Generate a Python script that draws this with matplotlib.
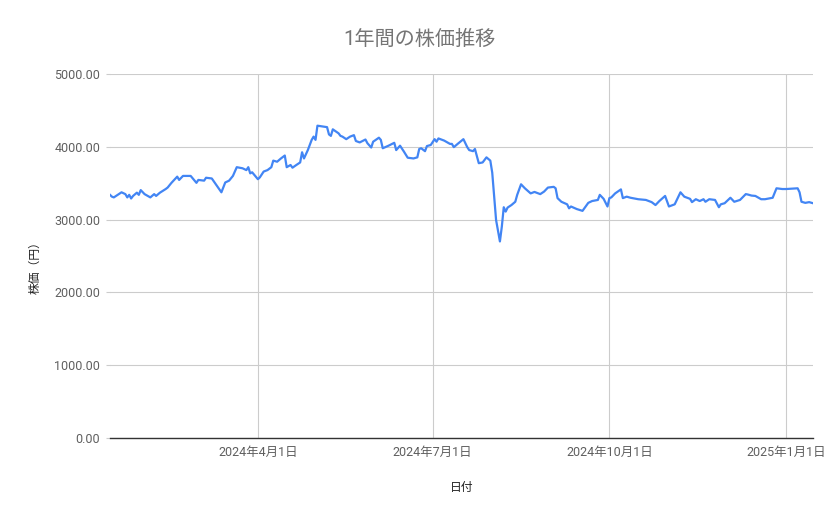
import numpy as np
import pandas as pd
import matplotlib
matplotlib.use('Agg')
import matplotlib.pyplot as plt
import matplotlib.dates as mdates
from matplotlib.ticker import FixedLocator, FuncFormatter

plt.rcParams['font.family'] = ['Roboto', 'Noto Sans CJK JP', 'DejaVu Sans']

dates = [
    '2024-01-15', '2024-01-16', '2024-01-17', '2024-01-19', '2024-01-21', '2024-01-23',
    '2024-01-24', '2024-01-25', '2024-01-26', '2024-01-27', '2024-01-29', '2024-01-30',
    '2024-01-31', '2024-02-02', '2024-02-05', '2024-02-07', '2024-02-08', '2024-02-10',
    '2024-02-13', '2024-02-14', '2024-02-16', '2024-02-19', '2024-02-20', '2024-02-22',
    '2024-02-26', '2024-02-29', '2024-03-01', '2024-03-04', '2024-03-05', '2024-03-08',
    '2024-03-11', '2024-03-13', '2024-03-15', '2024-03-17', '2024-03-19', '2024-03-21',
    '2024-03-24', '2024-03-26', '2024-03-27', '2024-03-28', '2024-03-29', '2024-04-01',
    '2024-04-02', '2024-04-04', '2024-04-06', '2024-04-08', '2024-04-09', '2024-04-11',
    '2024-04-13', '2024-04-15', '2024-04-16', '2024-04-18', '2024-04-19', '2024-04-21',
    '2024-04-23', '2024-04-24', '2024-04-25', '2024-04-27', '2024-04-29', '2024-04-30',
    '2024-05-01', '2024-05-02', '2024-05-07', '2024-05-08', '2024-05-09', '2024-05-10',
    '2024-05-13', '2024-05-14', '2024-05-15', '2024-05-17', '2024-05-19', '2024-05-21',
    '2024-05-22', '2024-05-24', '2024-05-27', '2024-05-28', '2024-05-30', '2024-05-31',
    '2024-06-03', '2024-06-04', '2024-06-05', '2024-06-08', '2024-06-11', '2024-06-12',
    '2024-06-14', '2024-06-16', '2024-06-18', '2024-06-21', '2024-06-23', '2024-06-24',
    '2024-06-25', '2024-06-27', '2024-06-28', '2024-06-30', '2024-07-02', '2024-07-03',
    '2024-07-04', '2024-07-07', '2024-07-10', '2024-07-11', '2024-07-12', '2024-07-14',
    '2024-07-17', '2024-07-19', '2024-07-20', '2024-07-22', '2024-07-23', '2024-07-25',
    '2024-07-27', '2024-07-29', '2024-07-31', '2024-08-01', '2024-08-02', '2024-08-03',
    '2024-08-05', '2024-08-06', '2024-08-07', '2024-08-08', '2024-08-09', '2024-08-11',
    '2024-08-13', '2024-08-14', '2024-08-16', '2024-08-18', '2024-08-21', '2024-08-23',
    '2024-08-26', '2024-08-28', '2024-08-30', '2024-09-02', '2024-09-03', '2024-09-04',
    '2024-09-06', '2024-09-09', '2024-09-10', '2024-09-11', '2024-09-14', '2024-09-17',
    '2024-09-20', '2024-09-22', '2024-09-25', '2024-09-26', '2024-09-28', '2024-09-30',
    '2024-10-01', '2024-10-02', '2024-10-04', '2024-10-07', '2024-10-08', '2024-10-10',
    '2024-10-12', '2024-10-16', '2024-10-20', '2024-10-23', '2024-10-25', '2024-10-27',
    '2024-10-30', '2024-11-01', '2024-11-04', '2024-11-07', '2024-11-09', '2024-11-12',
    '2024-11-13', '2024-11-15', '2024-11-17', '2024-11-19', '2024-11-20', '2024-11-22',
    '2024-11-25', '2024-11-27', '2024-11-28', '2024-11-30', '2024-12-03', '2024-12-05',
    '2024-12-08', '2024-12-11', '2024-12-12', '2024-12-14', '2024-12-16', '2024-12-19',
    '2024-12-21', '2024-12-25', '2024-12-27', '2024-12-30', '2025-01-01', '2025-01-07',
    '2025-01-08', '2025-01-09', '2025-01-11', '2025-01-13', '2025-01-15',
]

prices = [
    3340, 3315, 3305, 3340, 3375, 3350,
    3305, 3340, 3290, 3325, 3370, 3340,
    3405, 3350, 3305, 3350, 3325, 3370,
    3420, 3440, 3505, 3590, 3545, 3600,
    3600, 3505, 3545, 3535, 3575, 3565,
    3450, 3375, 3510, 3535, 3600, 3720,
    3705, 3680, 3720, 3635, 3650, 3555,
    3580, 3660, 3680, 3720, 3810, 3795,
    3840, 3880, 3720, 3750, 3713, 3750,
    3785, 3925, 3840, 3955, 4095, 4140,
    4095, 4290, 4270, 4170, 4150, 4240,
    4185, 4150, 4140, 4105, 4140, 4160,
    4080, 4060, 4100, 4050, 3990, 4070,
    4125, 4095, 3980, 4015, 4055, 3955,
    4015, 3935, 3850, 3840, 3855, 3970,
    3980, 3940, 4010, 4025, 4105, 4070,
    4115, 4085, 4040, 4040, 3995, 4040,
    4105, 3995, 3955, 3940, 3970, 3775,
    3785, 3855, 3810, 3645, 3315, 2995,
    2700, 2905, 3170, 3110, 3165, 3200,
    3245, 3340, 3485, 3430, 3360, 3380,
    3350, 3385, 3440, 3450, 3430, 3295,
    3245, 3210, 3155, 3180, 3145, 3120,
    3230, 3255, 3270, 3340, 3285, 3180,
    3295, 3305, 3360, 3415, 3295, 3315,
    3300, 3280, 3270, 3240, 3200, 3255,
    3325, 3180, 3210, 3375, 3315, 3285,
    3240, 3280, 3255, 3280, 3245, 3280,
    3270, 3170, 3210, 3225, 3300, 3245,
    3270, 3350, 3345, 3330, 3325, 3280,
    3280, 3300, 3430, 3420, 3420, 3430,
    3375, 3245, 3230, 3240, 3225,
]

x_ticks = ['2024-04-01', '2024-07-01', '2024-10-01', '2025-01-01']
y_ticks = [0, 1000, 2000, 3000, 4000, 5000]

df = pd.DataFrame({'date': pd.to_datetime(dates), 'price': prices})

fig = plt.figure(figsize=(8.39, 5.19), dpi=100)
ax = fig.add_axes([110 / 839, 1 - 438 / 519, 703 / 839, 364 / 519])

ax.plot(df['date'], df['price'], color='#4285f4', linewidth=1.6,
        solid_joinstyle='round', zorder=3)

ax.set_xlim(df['date'].min(), df['date'].max())
ax.set_ylim(0, 5000)

tick_dates = pd.to_datetime(x_ticks)
ax.xaxis.set_major_locator(FixedLocator(mdates.date2num(tick_dates)))
ax.xaxis.set_major_formatter(FuncFormatter(
    lambda v, pos: '{0.year}年{0.month}月{0.day}日'.format(mdates.num2date(v))))
ax.yaxis.set_major_locator(FixedLocator(y_ticks))
ax.yaxis.set_major_formatter(FuncFormatter(lambda v, pos: f'{v:.2f}'))

ax.grid(True, color='#cccccc', linewidth=0.8, zorder=0)
for s in ['top', 'right', 'left']:
    ax.spines[s].set_visible(False)
ax.spines['bottom'].set_color('#333333')
ax.spines['bottom'].set_linewidth(1.0)
ax.spines['bottom'].set_zorder(4)

ax.tick_params(axis='y', length=3, color='#cccccc', width=0.8, pad=4,
               labelsize=9, labelcolor='#5f5f5f')
ax.tick_params(axis='x', length=0, pad=6, labelsize=9, labelcolor='#5f5f5f')

fig.text(0.5, 1 - 39 / 519, '1年間の株価推移', ha='center', va='center',
         fontsize=14.5, color='#757575')
fig.text(462 / 839, 1 - 487 / 519, '日付', ha='center', va='center',
         fontsize=8.5, color='#222222')
fig.text(35 / 839, 1 - 265 / 519, '株価（円）', ha='center', va='center',
         rotation=90, fontsize=8.5, color='#222222',
         family=['Noto Sans CJK JP', 'DejaVu Sans'])

fig.savefig('out.png', dpi=100)
